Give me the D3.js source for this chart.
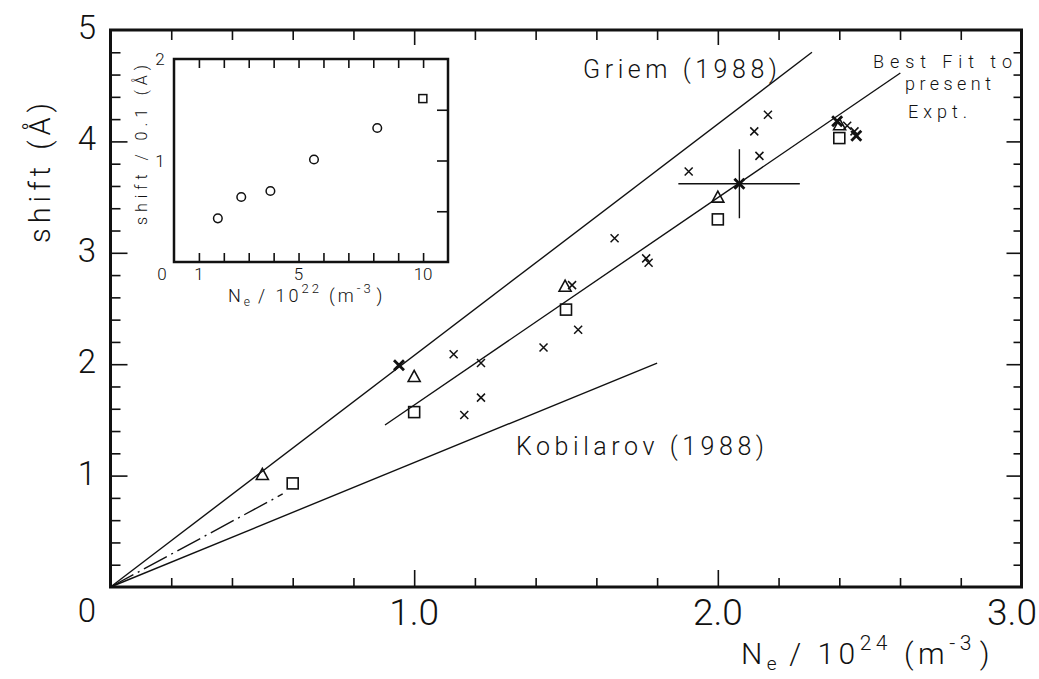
<!DOCTYPE html>
<html>
<head>
<meta charset="utf-8">
<script src="https://cdn.jsdelivr.net/npm/d3@7"></script>
<style>
  html, body { margin: 0; padding: 0; background: #fff; }
  svg { display: block; }
  text { fill: #111; }
</style>
</head>
<body>
<svg id="chart" width="1039" height="679"></svg>
<script>
// ---------------- data ----------------
// main panel: N_e / 10^24 m^-3  vs  shift (Å)
const crossX = [1.13, 1.22, 1.165, 1.22, 1.426, 1.54, 1.52, 1.66, 1.764, 1.772, 1.904, 2.12, 2.165, 2.137, 2.426, 2.45];
const crossY = [2.09, 2.01, 1.544, 1.70, 2.15, 2.31, 2.71, 3.13, 2.95, 2.91, 3.73, 4.09, 4.24, 3.87, 4.14, 4.09];
const boldCrossX = [0.95, 2.071, 2.393, 2.456];
const boldCrossY = [1.99, 3.62, 4.18, 4.05];
const triX = [0.50, 1.00, 1.497, 2.00, 2.401];
const triY = [1.01, 1.89, 2.70, 3.50, 4.15];
const sqX = [0.60, 1.00, 1.50, 2.00, 2.40];
const sqY = [0.93, 1.57, 2.49, 3.30, 4.03];

// lines
const griemX = [0, 2.31],  griemY = [0, 4.80];
const fitX = [0.904, 2.601], fitY = [1.454, 4.614];
const kobX = [0, 1.80], kobY = [0, 2.01];
const dashX = [0, 0.567], dashY = [0, 0.835];

// error bar on representative point
const errX = [1.87, 2.27], errY = [3.31, 3.93], errC = [2.071, 3.62];

// inset: N_e / 10^22 m^-3  vs  shift / 0.1 Å
const insCircX = [1.76, 2.70, 3.87, 5.62, 8.16];
const insCircY = [0.43, 0.64, 0.70, 1.01, 1.32];
const insSqX = [9.99];
const insSqY = [1.61];

// tick labels
const xTickVals = [1.0, 2.0, 3.0];
const xTickLabels = ["1.0", "2.0", "3.0"];
const yTickVals = [1, 2, 3, 4, 5];
const yTickLabels = ["1", "2", "3", "4", "5"];
const insXTickVals = [1, 5, 10];
const insYTickVals = [1, 2];

// ---------------- drawing ----------------
const svg = d3.select("#chart");
const x = d3.scaleLinear().domain([0, 3]).range([110.5, 1021.5]);
const y = d3.scaleLinear().domain([0, 5]).range([587, 30]);
const ix = d3.scaleLinear().domain([0, 11]).range([174, 448]);
const iy = d3.scaleLinear().domain([0, 2]).range([262, 59]);

const numFont = "Roboto, 'DejaVu Sans', sans-serif";
const lblFont = "Roboto, 'DejaVu Sans', sans-serif";

function tickAxis(g, axisGen) {
  g.call(axisGen);
  g.select(".domain").remove();
  g.selectAll(".tick line").attr("stroke", "#111").attr("stroke-width", 1.6);
  g.selectAll(".tick text").remove();
}
const minorX = d3.range(0, 3.0001, 0.2).map(v => +v.toFixed(2)).filter(v => v > 0 && v < 3 && Math.abs(v - Math.round(v)) > 1e-6);
const majorX = [1, 2];
const minorY = d3.range(0, 5.0001, 0.2).map(v => +v.toFixed(2)).filter(v => v > 0 && v < 5 && Math.abs(v - Math.round(v)) > 1e-6);
const majorY = [1, 2, 3, 4];

// main ticks (inward)
tickAxis(svg.append("g").attr("transform", `translate(0,${y(0)})`), d3.axisBottom(x).tickValues(minorX).tickSize(-9));
tickAxis(svg.append("g").attr("transform", `translate(0,${y(0)})`), d3.axisBottom(x).tickValues(majorX).tickSize(-17));
tickAxis(svg.append("g").attr("transform", `translate(0,${y(5)})`), d3.axisTop(x).tickValues(minorX).tickSize(-10));
tickAxis(svg.append("g").attr("transform", `translate(0,${y(5)})`), d3.axisTop(x).tickValues(majorX).tickSize(-15));
tickAxis(svg.append("g").attr("transform", `translate(${x(0)},0)`), d3.axisLeft(y).tickValues(minorY).tickSize(-10));
tickAxis(svg.append("g").attr("transform", `translate(${x(0)},0)`), d3.axisLeft(y).tickValues(majorY).tickSize(-17));
tickAxis(svg.append("g").attr("transform", `translate(${x(3)},0)`), d3.axisRight(y).tickValues(minorY).tickSize(-8));
tickAxis(svg.append("g").attr("transform", `translate(${x(3)},0)`), d3.axisRight(y).tickValues(majorY).tickSize(-15));

// frame
svg.append("rect")
  .attr("x", x(0)).attr("y", y(5))
  .attr("width", x(3) - x(0)).attr("height", y(0) - y(5))
  .attr("fill", "none").attr("stroke", "#111").attr("stroke-width", 3);

// tick labels main
svg.append("g").selectAll("text").data(xTickVals).join("text")
  .attr("x", (d, i) => i === xTickVals.length - 1 ? 1037 : x(d))
  .attr("y", 625)
  .attr("text-anchor", (d, i) => i === xTickVals.length - 1 ? "end" : "middle")
  .attr("font-family", numFont).attr("font-weight", 300).attr("font-size", 37)
  .text((d, i) => xTickLabels[i]);
svg.append("g").selectAll("text").data(yTickVals).join("text")
  .attr("x", 87).attr("y", d => y(d) + 9)
  .attr("text-anchor", "middle")
  .attr("font-family", numFont).attr("font-weight", 300).attr("font-size", 33)
  .text((d, i) => yTickLabels[i]);
svg.append("text").attr("x", 87).attr("y", 622).attr("text-anchor", "middle")
  .attr("font-family", numFont).attr("font-weight", 300).attr("font-size", 33).text("0");

// axis titles
svg.append("text")
  .attr("transform", "translate(50,173) rotate(-90)")
  .attr("text-anchor", "middle")
  .attr("font-family", lblFont).attr("font-weight", 300).attr("font-size", 29)
  .attr("textLength", 140).attr("lengthAdjust", "spacing")
  .text("shift (Å)");
const xt = svg.append("text").attr("x", 741).attr("y", 664)
  .attr("font-family", lblFont).attr("font-weight", 300).attr("font-size", 30)
  .attr("letter-spacing", 4.5);
xt.append("tspan").text("N");
xt.append("tspan").attr("font-size", 19).attr("dy", 6).text("e");
xt.append("tspan").attr("dy", -6).attr("dx", 8).text("/ 10");
xt.append("tspan").attr("font-size", 21).attr("dy", -14).text("24");
xt.append("tspan").attr("dy", 14).attr("dx", 12).text("(m");
xt.append("tspan").attr("font-size", 21).attr("dy", -14).text("-3");
xt.append("tspan").attr("dy", 14).attr("dx", 4).text(")");

// lines
const line = d3.line().x(d => x(d[0])).y(d => y(d[1]));
function seg(xs, ys) { return xs.map((v, i) => [v, ys[i]]); }
const lg = svg.append("g").attr("fill", "none").attr("stroke", "#111").attr("stroke-width", 1.4);
lg.append("path").attr("d", line(seg(griemX, griemY)));
lg.append("path").attr("d", line(seg(fitX, fitY)));
lg.append("path").attr("d", line(seg(kobX, kobY)));
lg.append("path").attr("d", line(seg(dashX, dashY))).attr("stroke-dasharray", "26,5,2,5");

// error bar
const eg = svg.append("g").attr("stroke", "#111").attr("stroke-width", 1.4);
eg.append("line").attr("x1", x(errX[0])).attr("x2", x(errX[1])).attr("y1", y(errC[1])).attr("y2", y(errC[1]));
eg.append("line").attr("x1", x(errC[0])).attr("x2", x(errC[0])).attr("y1", y(errY[0])).attr("y2", y(errY[1]));

// markers
const cs = 4;
function crosses(xs, ys, sw, s) {
  const g = svg.append("g").attr("stroke", "#111").attr("stroke-width", sw).attr("fill", "none");
  g.selectAll("path").data(xs.map((v, i) => [v, ys[i]])).join("path")
    .attr("d", d => { const px = x(d[0]), py = y(d[1]);
      return `M${px - s},${py - s}L${px + s},${py + s}M${px - s},${py + s}L${px + s},${py - s}`; });
}
crosses(crossX, crossY, 1.5, cs);
crosses(boldCrossX, boldCrossY, 2.8, 5);

svg.append("g").attr("stroke", "#111").attr("stroke-width", 1.6).attr("fill", "none")
  .selectAll("path").data(triX.map((v, i) => [v, triY[i]])).join("path")
  .attr("d", d => { const px = x(d[0]), py = y(d[1]);
    return `M${px},${py - 6}L${px + 6},${py + 5}L${px - 6},${py + 5}Z`; });
svg.append("g").attr("stroke", "#111").attr("stroke-width", 1.6).attr("fill", "none")
  .selectAll("rect").data(sqX.map((v, i) => [v, sqY[i]])).join("rect")
  .attr("x", d => x(d[0]) - 5.5).attr("y", d => y(d[1]) - 5.5)
  .attr("width", 11).attr("height", 11);

// labels in plot
function label(txt, x0, base, w, fs) {
  svg.append("text").attr("x", x0).attr("y", base)
    .attr("font-family", lblFont).attr("font-weight", 300).attr("font-size", fs)
    .attr("textLength", w).attr("lengthAdjust", "spacing").text(txt);
}
label("Griem (1988)", 583, 78, 194, 25);
label("Kobilarov (1988)", 516, 455, 248, 25);
label("Best Fit to", 873, 68, 139, 18);
label("present", 905, 90, 86, 18);
label("Expt.", 908, 118, 59, 18);

// ---------------- inset ----------------
const inset = svg.append("g");
inset.append("rect").attr("x", ix(0)).attr("y", iy(2))
  .attr("width", ix(11) - ix(0)).attr("height", iy(0) - iy(2))
  .attr("fill", "#fff").attr("stroke", "#111").attr("stroke-width", 2.5);
const insXT = d3.range(1, 11);
tickAxis(inset.append("g").attr("transform", `translate(0,${iy(0)})`), d3.axisBottom(ix).tickValues(insXT).tickSize(-9));
tickAxis(inset.append("g").attr("transform", `translate(0,${iy(2)})`), d3.axisTop(ix).tickValues(insXT).tickSize(-9));
tickAxis(inset.append("g").attr("transform", `translate(${ix(11)},0)`), d3.axisRight(iy).tickValues([0.5, 1, 1.5]).tickSize(-11));

inset.append("g").selectAll("text").data(insXTickVals).join("text")
  .attr("x", d => ix(d)).attr("y", 280).attr("text-anchor", "middle")
  .attr("font-family", numFont).attr("font-weight", 300).attr("font-size", 17)
  .text(d => d);
inset.append("text").attr("x", 162).attr("y", 280).attr("text-anchor", "middle")
  .attr("font-family", numFont).attr("font-weight", 300).attr("font-size", 17).text("0");
inset.append("g").selectAll("text").data(insYTickVals).join("text")
  .attr("x", 160).attr("y", d => iy(d) + 6).attr("text-anchor", "middle")
  .attr("font-family", numFont).attr("font-weight", 300).attr("font-size", 17)
  .text(d => d);

inset.append("text")
  .attr("transform", "translate(147,145) rotate(-90)")
  .attr("text-anchor", "middle")
  .attr("font-family", lblFont).attr("font-weight", 300).attr("font-size", 16)
  .attr("textLength", 160).attr("lengthAdjust", "spacing")
  .text("shift / 0.1 (Å)");
const it = inset.append("text").attr("x", 228).attr("y", 302)
  .attr("font-family", lblFont).attr("font-weight", 300).attr("font-size", 18)
  .attr("letter-spacing", 3);
it.append("tspan").text("N");
it.append("tspan").attr("font-size", 12).attr("dy", 4).text("e");
it.append("tspan").attr("dy", -4).attr("dx", 5).text("/ 10");
it.append("tspan").attr("font-size", 13).attr("dy", -9).text("22");
it.append("tspan").attr("dy", 9).attr("dx", 7).text("(m");
it.append("tspan").attr("font-size", 13).attr("dy", -9).text("-3");
it.append("tspan").attr("dy", 9).attr("dx", 3).text(")");

inset.append("g").attr("stroke", "#111").attr("stroke-width", 1.5).attr("fill", "none")
  .selectAll("circle").data(insCircX.map((v, i) => [v, insCircY[i]])).join("circle")
  .attr("cx", d => ix(d[0])).attr("cy", d => iy(d[1])).attr("r", 4.3);
inset.append("g").attr("stroke", "#111").attr("stroke-width", 1.5).attr("fill", "none")
  .selectAll("rect").data(insSqX.map((v, i) => [v, insSqY[i]])).join("rect")
  .attr("x", d => ix(d[0]) - 4).attr("y", d => iy(d[1]) - 4).attr("width", 8).attr("height", 8);
</script>
</body>
</html>
